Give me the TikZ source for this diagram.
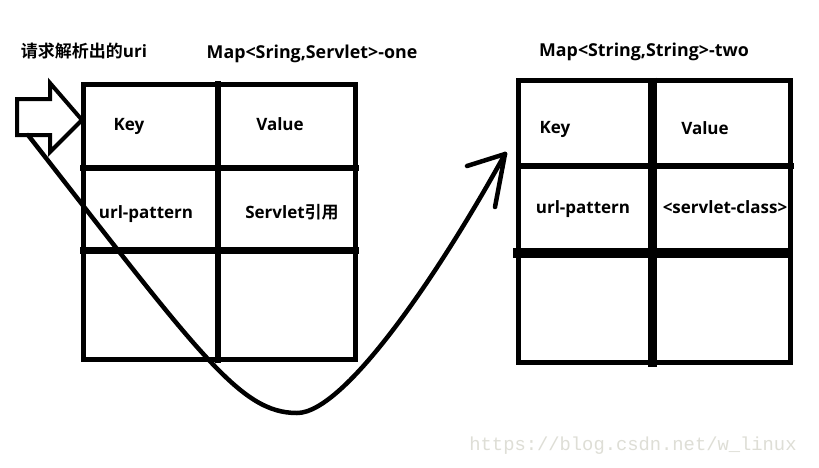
\documentclass[tikz,border=0pt]{standalone}
\usepackage{fontspec}
\setmainfont{Open Sans}
\newfontfamily\cjk{Noto Sans CJK SC}[BoldFont={Noto Sans CJK SC Bold}]
\newfontfamily\wmfont{Liberation Mono}
\begin{document}
\begin{tikzpicture}[x=1pt,y=-1pt,
  lbl/.style={anchor=base,inner sep=0pt,font=\fontsize{17}{20}\selectfont\bfseries},
  ttl/.style={lbl,font=\fontsize{17.8}{20}\selectfont\bfseries},
  grid/.style={draw=black,line cap=rect},
  conn/.style={draw=black,line width=4.5pt,line cap=round,line join=round}]
\useasboundingbox (0,0) rectangle (819,467);
\fill[white] (0,0) rectangle (819,467);
% titles
\node[lbl] (req) at (84,57) {{\cjk 请求解析出的}uri};
\node[ttl] (mapone) at (312,58) {Map<Sring,Servlet>-one};
\node[ttl] (maptwo) at (644,56) {Map<String,String>-two};
% left table
\draw[grid,line width=5pt] (83,84) rectangle (355.5,359.5);
\draw[grid,line width=6pt] (218,84) -- (218,359.5);
\draw[grid,line width=6.5pt] (83,168) -- (355.5,168);
\draw[grid,line width=6.5pt] (83,250.7) -- (355.5,250.7);
\node[lbl] (lkey) at (129,130) {Key};
\node[lbl] (lval) at (280,130) {Value};
\node[lbl] (lurl) at (146,218) {url-pattern};
\node[lbl] (lsrv) at (292,218) {Servlet{\cjk 引用}};
% right table
\draw[grid,line width=5pt] (518.5,80) rectangle (790.5,362.5);
\draw[line width=8.5pt] (652.5,77.5) -- (652.5,367);
\draw[grid,line width=6pt] (518.5,166) -- (790.5,166);
\draw[line width=10pt] (513,253) -- (793,253);
\node[lbl] (rkey) at (555,133) {Key};
\node[lbl] (rval) at (705,134) {Value};
\node[lbl] (rurl) at (583,213) {url-pattern};
\node[lbl] (rcls) at (725,213) {<servlet-class>};
% block arrow
\draw[line width=4pt,line join=miter] (17,99) -- (50,99) -- (50,83) -- (82,120) -- (50,152) -- (50,135) -- (17,135) -- cycle;
\coordinate (src) at (28,135);
\coordinate (dst) at (505,154);
\draw[conn] (src) .. controls (200,355) and (240,413) .. (297,413)
   .. controls (345,413) and (440,272) .. (dst);
\draw[conn] (dst) -- ++(-38,12);
\draw[conn] (dst) -- ++(-10,53);
% watermark
\node[anchor=base,inner sep=0pt,font=\wmfont\fontsize{18.8}{20}\selectfont,text={rgb,255:red,222;green,222;blue,214}] (wm) at (633,450) {https://blog.csdn.net/w\_linux};
\end{tikzpicture}
\end{document}
